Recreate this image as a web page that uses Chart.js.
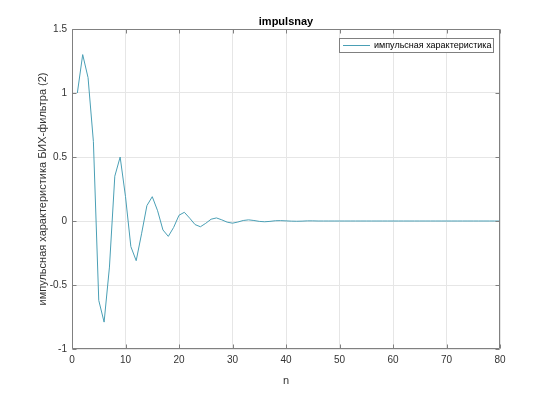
<!DOCTYPE html>
<html>
<head>
<meta charset="utf-8">
<script src="https://cdn.jsdelivr.net/npm/chart.js@4/dist/chart.umd.min.js"></script>
<style>
html,body{margin:0;padding:0;background:#fff;}
canvas{display:block;}
</style>
</head>
<body>
<canvas id="c" width="554" height="393"></canvas>
<script>
// ---- data ----
const chartTitle = "impulsnay";
const xLabel = "n";
const yLabel = "импульсная характеристика БИХ-фильтра (2)";
const seriesName = "импульсная характеристика";
const xTicks = [0, 10, 20, 30, 40, 50, 60, 70, 80];
const yTicks = [-1, -0.5, 0, 0.5, 1, 1.5];
// sample index n = 1..80
const nValues = [
  1,2,3,4,5,6,7,8,9,10,11,12,13,14,15,16,17,18,19,20,
  21,22,23,24,25,26,27,28,29,30,31,32,33,34,35,36,37,38,39,40,
  41,42,43,44,45,46,47,48,49,50,51,52,53,54,55,56,57,58,59,60,
  61,62,63,64,65,66,67,68,69,70,71,72,73,74,75,76,77,78,79,80
];
const hValues = [
  1.00, 1.30, 1.12, 0.62, -0.62, -0.79, -0.36, 0.35, 0.50, 0.19,
  -0.20, -0.31, -0.10, 0.12, 0.19, 0.08, -0.07, -0.12, -0.05, 0.045,
  0.068, 0.022, -0.028, -0.045, -0.018, 0.014, 0.024, 0.009, -0.009, -0.017,
  -0.008, 0.004, 0.009, 0.004, -0.003, -0.006, -0.003, 0.002, 0.003, 0.001,
  -0.001, -0.002, -0.001, 0.001, 0.001, 0, 0, 0, 0, 0,
  0, 0, 0, 0, 0, 0, 0, 0, 0, 0,
  0, 0, 0, 0, 0, 0, 0, 0, 0, 0,
  0, 0, 0, 0, 0, 0, 0, 0, 0, 0
];

const lineColor = "#4a9fb5";
const axisColor = "#808080";
const textColor = "#333333";
const FONT = "'Liberation Sans', Arial, Helvetica, sans-serif";

const points = nValues.map((n, i) => ({x: n, y: hValues[i]}));

const decor = {
  id: 'decor',
  afterDraw(chart) {
    const ctx = chart.ctx;
    const a = chart.chartArea;
    const xs = chart.scales.x, ys = chart.scales.y;
    ctx.save();
    // box
    ctx.strokeStyle = axisColor;
    ctx.lineWidth = 1;
    const L = Math.round(a.left) + 0.5, R = Math.round(a.right) - 0.5;
    const T = Math.round(a.top) + 0.5, B = Math.round(a.bottom) - 0.5;
    ctx.beginPath();
    ctx.rect(L, T, R - L, B - T);
    ctx.stroke();
    // inward ticks
    const tl = 4;
    ctx.beginPath();
    xTicks.forEach(v => {
      const px = Math.round(xs.getPixelForValue(v)) + 0.5;
      ctx.moveTo(px, B); ctx.lineTo(px, B - tl);
      ctx.moveTo(px, T); ctx.lineTo(px, T + tl);
    });
    yTicks.forEach(v => {
      const py = Math.round(ys.getPixelForValue(v)) + 0.5;
      ctx.moveTo(L, py); ctx.lineTo(L + tl, py);
      ctx.moveTo(R, py); ctx.lineTo(R - tl, py);
    });
    ctx.stroke();
    // title
    ctx.fillStyle = '#000';
    ctx.font = "bold 11px " + FONT;
    ctx.textAlign = 'center';
    ctx.textBaseline = 'middle';
    ctx.fillText(chartTitle, (a.left + a.right) / 2, 22);
    // x label
    ctx.fillStyle = textColor;
    ctx.font = "11px " + FONT;
    ctx.fillText(xLabel, (a.left + a.right) / 2, 381);
    // y label
    ctx.save();
    ctx.translate(43, (a.top + a.bottom) / 2);
    ctx.rotate(-Math.PI / 2);
    ctx.fillText(yLabel, 0, 0);
    ctx.restore();
    // legend
    const lx = 339.5, ly = 38.5, lw = 154, lh = 14;
    ctx.fillStyle = '#fff';
    ctx.fillRect(lx, ly, lw, lh);
    ctx.strokeStyle = axisColor;
    ctx.strokeRect(lx, ly, lw, lh);
    ctx.strokeStyle = lineColor;
    ctx.beginPath();
    ctx.moveTo(343, ly + lh / 2); ctx.lineTo(370, ly + lh / 2);
    ctx.stroke();
    ctx.fillStyle = '#000';
    ctx.font = "9px " + FONT;
    ctx.textAlign = 'left';
    ctx.fillText(seriesName, 374, ly + lh / 2 + 0.5);
    ctx.restore();
  }
};

new Chart(document.getElementById('c'), {
  type: 'line',
  data: {
    datasets: [{
      label: seriesName,
      data: points,
      borderColor: lineColor,
      borderWidth: 1,
      pointRadius: 0,
      tension: 0,
      fill: false
    }]
  },
  options: {
    responsive: false,
    animation: false,
    devicePixelRatio: 1,
    layout: {padding: {left: 0, right: 54, top: 29, bottom: 0}},
    plugins: {legend: {display: false}, title: {display: false}, tooltip: {enabled: false}},
    scales: {
      x: {
        type: 'linear', min: 0, max: 80,
        afterBuildTicks: s => { s.ticks = xTicks.map(v => ({value: v})); },
        afterFit: s => { s.height = 44; },
        ticks: {color: textColor, font: {size: 10, family: FONT}, padding: 5, maxRotation: 0,
                callback: v => String(v)},
        grid: {color: '#e6e6e6', drawTicks: false, lineWidth: 1},
        border: {display: false}
      },
      y: {
        type: 'linear', min: -1, max: 1.5,
        afterBuildTicks: s => { s.ticks = yTicks.map(v => ({value: v})); },
        afterFit: s => { s.width = 72; },
        ticks: {color: textColor, font: {size: 10, family: FONT}, padding: 5,
                callback: v => String(v)},
        grid: {color: '#e6e6e6', drawTicks: false, lineWidth: 1},
        border: {display: false}
      }
    }
  },
  plugins: [decor]
});
</script>
</body>
</html>
